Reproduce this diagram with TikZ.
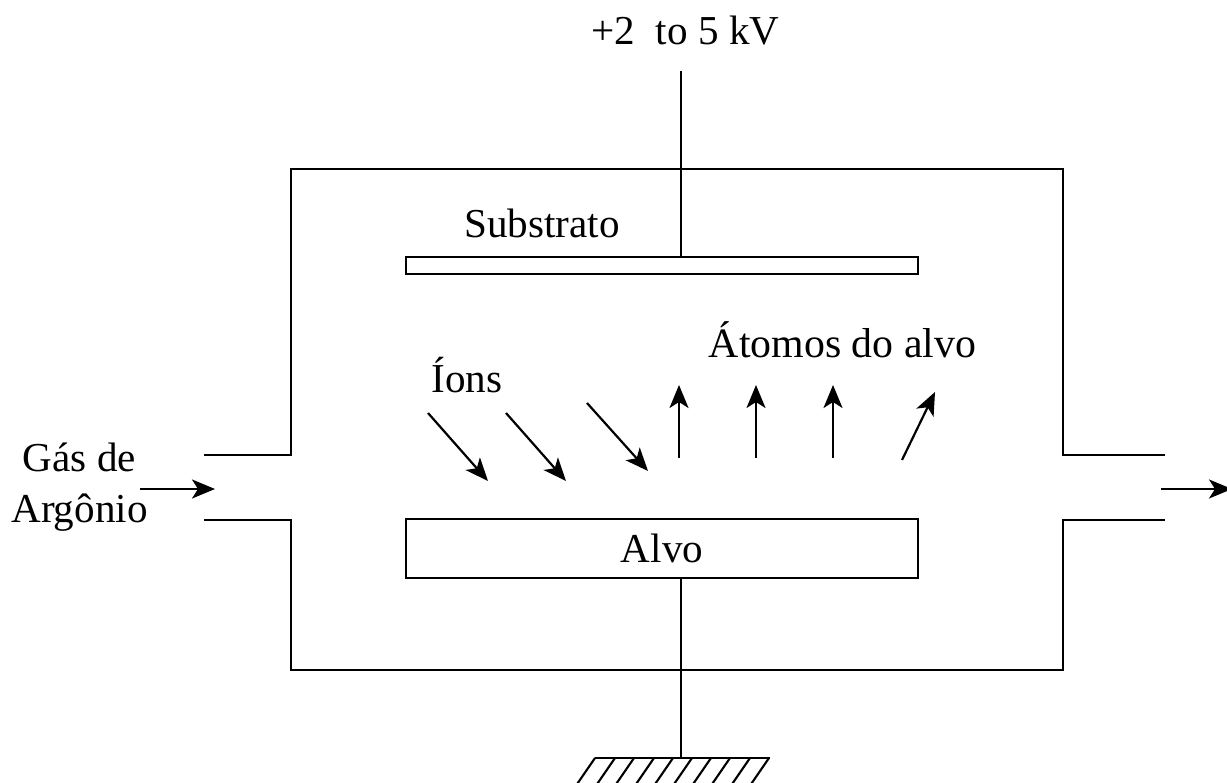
\documentclass[tikz,border=0pt]{standalone}
\usepackage{fontspec}
\setmainfont{Liberation Serif}
\usetikzlibrary{arrows.meta}

\begin{document}
\begin{tikzpicture}[x=0.02cm,y=-0.02cm,
  wall/.style={line width=1.3pt},
  plate/.style={draw,line width=1.2pt,rectangle,inner sep=0pt},
  flow/.style={line width=1.25pt,-{Stealth[length=0.46cm,width=0.38cm,inset=0.12cm]}},
  label/.style={font=\fontsize{23.4}{27}\selectfont,inner sep=0pt,anchor=base}]
\useasboundingbox (0,0) rectangle (1227,783);
% plates
\node[plate,minimum width=10.24cm,minimum height=0.34cm] (sub) at (662,265.5) {};
\node[plate,font=\fontsize{23.4}{27}\selectfont,minimum width=10.24cm,minimum height=1.18cm] (alvo) at (662,548.5) {Alvo};
% chamber
\coordinate (t1) at (204,455);
\coordinate (t2) at (291,455);
\coordinate (t3) at (291,169);
\coordinate (t4) at (1063,169);
\coordinate (t5) at (1063,455);
\coordinate (t6) at (1165,455);
\coordinate (b1) at (204,520);
\coordinate (b2) at (291,520);
\coordinate (b3) at (291,670);
\coordinate (b4) at (1063,670);
\coordinate (b5) at (1063,520);
\coordinate (b6) at (1165,520);
\draw[wall] (t1) -- (t2) -- (t3) -- (t4) -- (t5) -- (t6);
\draw[wall] (b1) -- (b2) -- (b3) -- (b4) -- (b5) -- (b6);
% wires
\coordinate (hv) at (681,71);
\coordinate (hvend) at (681,257);
\coordinate (gnd) at (681,758);
\coordinate (alvoend) at (681,578);
\draw[wall] (hv) -- (hvend);
\draw[wall] (alvoend) -- (gnd);
% ground
\coordinate (g1) at (595,758);
\coordinate (g2) at (770,758);
\draw[wall] (g1) -- (g2);
\begin{scope}
\clip (0,0) rectangle (1227,783);
\foreach \x in {595,615,634,654,673,692,711,730,750,769}
  \draw[line width=1.2pt] (\x,758) -- (\x-22,790);
\end{scope}
% texts
\node[label] (hvlab) at (685.5,45) {+2\ \ to 5 kV};
\node[label] (sublab) at (542,238) {Substrato};
\node[label,font=\fontsize{23.8}{27}\selectfont] (atlab) at (842.5,358) {Átomos do alvo};
\node[label] (ionlab) at (467,393) {Íons};
\node[label] (gas) at (79.5,472) {Gás de};
\node[label] (arg) at (79.5,522) {Argônio};
% arrows
\coordinate (i1a) at (428,413);
\coordinate (i1b) at (488,481);
\coordinate (i2a) at (506,413);
\coordinate (i2b) at (566,481);
\coordinate (i3a) at (587,403);
\coordinate (i3b) at (648,471);
\draw[flow] (i1a) -- (i1b);
\draw[flow] (i2a) -- (i2b);
\draw[flow] (i3a) -- (i3b);
\foreach \n/\x in {u1/679,u2/756,u3/833} {
  \coordinate (\n a) at (\x,458);
  \coordinate (\n b) at (\x,385);
  \draw[flow] (\n a) -- (\n b);
}
\coordinate (u4a) at (902,460);
\coordinate (u4b) at (935,392);
\draw[flow] (u4a) -- (u4b);
\coordinate (inA) at (140,489);
\coordinate (inB) at (215,489);
\coordinate (outA) at (1161,489);
\coordinate (outB) at (1232,489);
\draw[flow] (inA) -- (inB);
\draw[flow] (outA) -- (outB);
\end{tikzpicture}
\end{document}
